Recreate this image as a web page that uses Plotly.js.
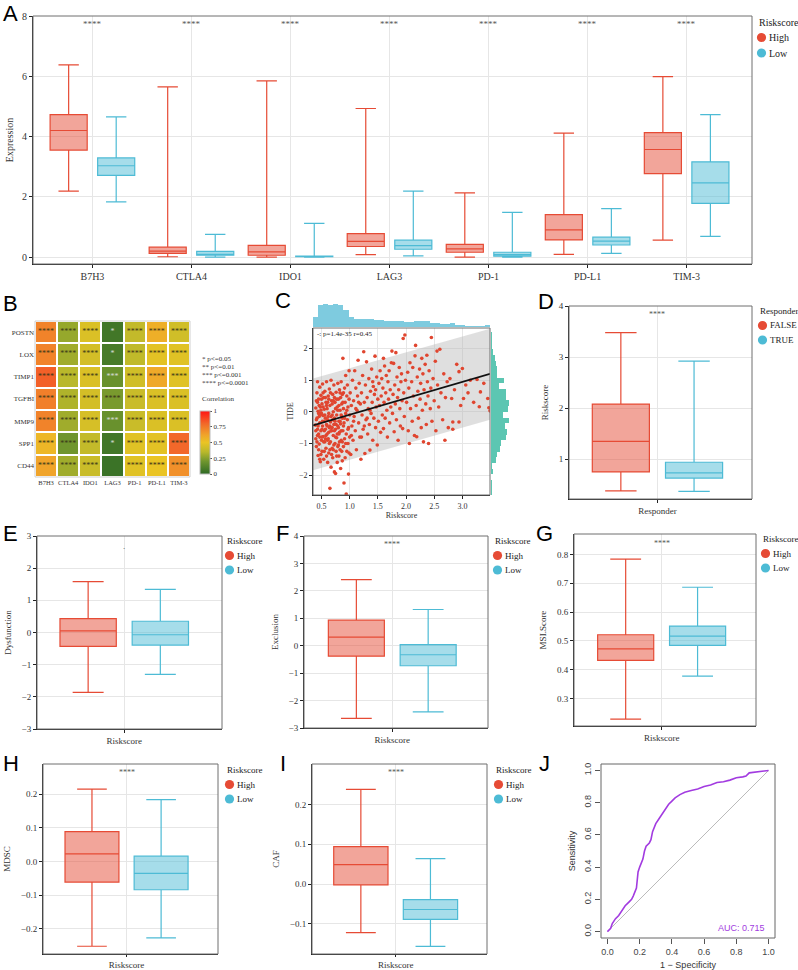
<!DOCTYPE html>
<html><head><meta charset="utf-8">
<script src="https://cdn.plot.ly/plotly-3.0.1.min.js"></script>
<style>html,body{margin:0;padding:0;background:#fff}#chart{width:798px;height:970px}</style>
</head><body><div id="chart"></div>
<script>
const W = 798, H = 970;
const SERIF = 'Liberation Serif, Times New Roman, serif';
const SANS = 'Liberation Sans, Arial, sans-serif';
const RED = '#E64B35', CYAN = '#4DBBD5';
const RED_F = 'rgba(230,75,53,0.5)', CYAN_F = 'rgba(77,187,213,0.5)';

// ---------- Panel A data ----------
const genes = ['B7H3','CTLA4','IDO1','LAG3','PD-1','PD-L1','TIM-3'];
const aHighLower = [2.19, 0.01, 0.00, 0.08, 0.00, 0.09, 0.56];
const aHighQ1    = [3.55, 0.12, 0.06, 0.35, 0.16, 0.57, 2.77];
const aHighMed   = [4.20, 0.20, 0.17, 0.52, 0.27, 0.90, 3.57];
const aHighQ3    = [4.73, 0.33, 0.39, 0.78, 0.42, 1.41, 4.13];
const aHighUpper = [6.38, 5.65, 5.85, 4.93, 2.13, 4.11, 5.99];
const aLowLower  = [1.83, 0.00, 0.00, 0.04, 0.00, 0.12, 0.69];
const aLowQ1     = [2.71, 0.06, 0.01, 0.26, 0.03, 0.40, 1.78];
const aLowMed    = [3.03, 0.09, 0.02, 0.38, 0.08, 0.53, 2.46];
const aLowQ3     = [3.29, 0.19, 0.035, 0.56, 0.16, 0.66, 3.16];
const aLowUpper  = [4.65, 0.75, 1.12, 2.19, 1.48, 1.61, 4.73];
const aSig = ['****','****','****','****','****','****','****'];

// ---------- Panel B data ----------
const hmRows = ['POSTN','LOX','TIMP1','TGFBI','MMP9','SPP1','CD44'];
const hmCols = ['B7H3','CTLA4','IDO1','LAG3','PD-1','PD-L1','TIM-3'];
const hmPOSTN = [0.72, 0.28, 0.45, 0.06, 0.38, 0.58, 0.42];
const hmLOX   = [0.72, 0.30, 0.43, 0.08, 0.37, 0.48, 0.47];
const hmTIMP1 = [0.82, 0.35, 0.45, 0.18, 0.42, 0.60, 0.47];
const hmTGFBI = [0.73, 0.33, 0.43, 0.22, 0.40, 0.45, 0.45];
const hmMMP9  = [0.72, 0.30, 0.44, 0.18, 0.40, 0.45, 0.45];
const hmSPP1  = [0.55, 0.20, 0.38, 0.06, 0.47, 0.48, 0.80];
const hmCD44  = [0.62, 0.30, 0.40, 0.04, 0.47, 0.50, 0.68];
const sigPOSTN = ['****','****','****','*','****','****','****'];
const sigLOX   = ['****','****','****','*','****','****','****'];
const sigTIMP1 = ['****','****','****','***','****','****','****'];
const sigTGFBI = ['****','****','****','****','****','****','****'];
const sigMMP9  = ['****','****','****','***','****','****','****'];
const sigSPP1  = ['****','****','****','*','****','****','****'];
const sigCD44  = ['****','****','****','','****','****','****'];
const sigLegend = ['* p<=0.05','** p<=0.01','*** p<=0.001','**** p<=0.0001'];

// ---------- Panel C data (Riskscore, TIDE) ----------
const tidePairs = [
[0.39,-0.42],[0.40,0.12],[0.40,-0.85],[0.41,0.35],[0.41,-1.1],[0.42,-0.2],[0.42,0.6],[0.43,-0.55],[0.43,0.95],[0.44,-1.38],
[0.44,0.02],[0.45,-0.7],[0.45,0.4],[0.46,-0.15],[0.46,-1.02],[0.47,0.78],[0.47,-0.35],[0.48,-1.58],[0.48,0.15],[0.49,-0.6],
[0.49,0.52],[0.50,-0.9],[0.50,-0.05],[0.51,0.25],[0.51,-1.25],[0.52,-0.45],[0.52,0.88],[0.53,-0.12],[0.53,-0.78],[0.54,0.45],
[0.54,-1.5],[0.55,-0.3],[0.55,0.08],[0.56,-0.95],[0.56,0.65],[0.57,-0.55],[0.57,-0.2],[0.58,0.3],[0.58,-1.15],[0.59,-0.4],
[0.59,0.95],[0.60,-0.7],[0.60,0.1],[0.61,-1.6],[0.61,-0.25],[0.62,0.5],[0.62,-0.85],[0.63,-0.05],[0.63,-1.3],[0.64,0.72],
[0.64,-0.5],[0.65,-2.42],[0.65,0.2],[0.66,-0.95],[0.66,-0.32],[0.67,1.0],[0.67,-1.75],[0.68,-0.6],[0.68,0.35],[0.69,-1.15],
[0.69,-0.1],[0.70,0.55],[0.70,-1.45],[0.71,-0.75],[0.71,0.0],[0.72,-0.4],[0.72,0.85],[0.73,-1.9],[0.73,-0.2],[0.74,-1.0],
[0.74,0.3],[0.75,-1.95],[0.75,-0.55],[0.76,0.62],[0.76,-1.25],[0.77,-0.1],[0.77,-0.82],[0.78,0.15],[0.78,-1.6],[0.79,-0.45],
[0.79,0.9],[0.80,-1.05],[0.80,0.4],[0.81,-0.3],[0.81,-1.4],[0.82,0.7],[0.82,-0.65],[0.83,0.05],[0.83,-1.2],[0.84,-1.79],
[0.84,-0.38],[0.85,0.95],[0.85,-0.9],[0.86,0.25],[0.86,-0.15],[0.87,-1.55],[0.87,0.55],[0.88,1.69],[0.88,-0.6],[0.89,-1.1],
[0.89,0.1],[0.90,-2.25],[0.90,-0.35],[0.91,0.75],[0.91,-0.85],[0.92,-1.45],[0.92,0.3],[0.93,-0.05],[0.93,1.15],[0.94,-2.6],
[0.94,-0.7],[0.95,0.5],[0.95,-1.25],[0.96,-0.25],[0.96,0.85],[0.97,-1.0],[0.97,0.15],[0.98,-1.97],[0.98,-0.5],[0.99,1.3],
[0.99,0.4],[1.00,-0.8],[1.00,-0.1],
[0.40,-0.6],[0.41,-0.25],[0.42,-0.95],[0.43,0.3],[0.44,-0.45],[0.45,-1.2],[0.46,0.2],[0.47,-0.8],[0.48,-0.1],[0.49,-1.35],
[0.50,0.4],[0.51,-0.55],[0.52,-0.3],[0.53,0.15],[0.54,-0.95],[0.55,-0.6],[0.56,-0.1],[0.57,0.45],[0.58,-0.75],[0.59,-1.4],
[0.60,-0.45],[0.61,0.3],[0.62,-0.15],[0.63,-0.65],[0.64,-1.0],[0.65,-0.45],[0.66,0.6],[0.67,-0.15],[0.68,-1.35],[0.69,-0.5],
[0.70,-0.25],[0.71,0.35],[0.72,-1.05],[0.73,-0.6],[0.74,-0.3],[0.75,0.1],[0.76,-0.4],[0.77,-1.4],[0.78,-0.7],[0.79,0.05],
[0.80,-0.5],[0.81,0.2],[0.82,-0.95],[0.83,-0.3],[0.84,0.45],[0.85,-0.6],[0.86,-1.25],[0.87,-0.2],[0.88,0.3],[0.89,-0.45],
[0.43,-0.75],[0.45,-0.05],[0.47,-1.5],[0.49,0.05],[0.51,-0.8],[0.53,0.6],[0.55,-1.25],[0.57,-0.85],[0.59,0.2],[0.61,-0.9],
[0.63,0.4],[0.65,-1.2],[0.67,-0.6],[0.69,0.25],[0.71,-1.2],[0.73,0.45],[0.75,-0.8],[0.77,0.4],[0.79,-1.1],[0.81,-0.7],
[0.83,0.6],[0.85,-0.1],[0.87,-0.95],[0.89,0.6],[0.91,-0.2],[0.93,-1.0],[0.95,0.05],[0.97,-0.55],[0.99,-1.3],
[1.01,0.6],[1.02,-1.35],[1.03,0.2],[1.04,-0.45],[1.05,1.0],[1.06,-0.9],[1.07,0.35],[1.08,-0.15],[1.09,1.3],[1.10,-0.6],
[1.11,0.75],[1.12,-1.2],[1.13,0.05],[1.14,0.5],[1.15,1.63],[1.16,-0.35],[1.17,0.9],[1.18,-0.8],[1.19,0.25],[1.20,-1.5],
[1.21,0.6],[1.22,-0.1],[1.23,1.15],[1.24,-0.55],[1.25,1.9],[1.26,0.3],[1.27,-1.32],[1.28,0.85],[1.29,-0.25],[1.30,1.58],
[1.31,0.45],[1.32,-0.7],[1.33,0.1],[1.34,1.05],[1.35,-0.4],[1.36,-1.21],[1.37,0.65],[1.38,-0.05],[1.39,1.35],[1.40,0.3],
[1.41,-0.9],[1.42,0.8],[1.43,-0.2],[1.44,0.55],[1.45,1.76],[1.46,-0.5],[1.47,0.15],[1.48,1.1],[1.49,-1.05],[1.50,0.4],
[1.03,-0.75],[1.07,-0.3],[1.11,0.1],[1.16,0.3],[1.21,-0.8],[1.26,-0.45],[1.31,-0.2],[1.36,0.05],[1.41,0.95],[1.46,0.7],
[1.51,-0.3],[1.52,0.9],[1.53,0.2],[1.54,1.3],[1.55,-0.65],[1.56,0.5],[1.57,1.05],[1.58,-0.1],[1.59,0.75],[1.60,1.69],
[1.60,-0.53],[1.61,0.3],[1.62,1.45],[1.63,-0.2],[1.64,0.6],[1.65,1.15],[1.66,0.05],[1.67,-0.8],[1.68,0.95],[1.69,0.4],
[1.70,1.3],[1.71,-0.35],[1.72,0.7],[1.73,0.15],[1.74,1.55],[1.75,1.92],[1.76,-0.05],[1.77,0.55],[1.78,1.53],[1.79,-0.63],
[1.80,0.85],[1.81,0.25],[1.82,1.87],[1.83,-0.25],[1.84,1.1],[1.85,0.45],[1.86,-0.9],[1.87,0.7],[1.88,1.4],[1.89,0.1],
[1.90,-0.45],[1.91,0.95],[1.92,1.2],[1.93,0.35],[1.94,-0.53],[1.95,2.32],[1.96,0.6],[1.97,-0.15],[1.98,2.43],[1.99,1.0],
[2.01,0.3],[2.03,1.25],[2.04,-0.6],[2.05,0.75],[2.06,-1.0],[2.07,1.55],[2.08,0.1],[2.10,0.95],[2.11,-0.3],[2.12,1.4],
[2.13,0.5],[2.15,-0.75],[2.16,1.77],[2.17,2.1],[2.18,0.2],[2.19,-0.79],[2.20,1.1],[2.21,0.65],[2.22,-0.2],[2.24,1.35],
[2.25,0.4],[2.26,0.9],[2.27,-0.5],[2.28,1.69],[2.29,0.05],[2.30,1.2],[2.31,-0.95],[2.32,0.7],[2.34,1.5],[2.35,0.25],
[2.36,-0.4],[2.37,1.79],[2.38,0.95],[2.39,0.5],[2.40,-1.0],[2.41,1.3],[2.43,0.1],[2.44,0.75],[2.45,2.35],[2.46,-0.3],
[2.48,1.05],[2.50,0.35],[2.52,1.6],[2.53,-0.6],[2.55,1.92],[2.56,0.85],[2.58,0.15],[2.60,1.98],[2.62,0.6],
[2.65,-0.25],[2.67,1.2],[2.69,-0.9],[2.70,0.45],[2.73,0.95],[2.75,-0.5],[2.78,1.05],[2.81,0.42],[2.83,-0.32],[2.83,-0.55],
[2.86,0.7],[2.90,1.5],[2.94,1.27],[2.94,-0.32],[2.97,0.2],[3.00,1.37],[3.02,0.42],[3.06,0.85],[3.10,0.6],[3.14,1.0],
[3.20,0.3],[3.26,1.02],[3.30,0.16],[3.32,0.63],[3.38,0.9],[3.45,0.42],[3.47,0.13],[3.49,0.03]
];
const riskX = tidePairs.map(p => p[0]);
const tideY = tidePairs.map(p => p[1]);
const fitX = [0.35, 3.49];
const fitY = [-0.43, 1.20];
const bandLow = [-1.85, -0.25];
const bandHigh = [1.05, 2.63];
const corrText = '-: p=1.4e-35 r=0.45';

// ---------- Panels D–I data: [lower, q1, median, q3, upper] ----------
const respFalse = [0.38, 0.75, 1.35, 2.08, 3.48];
const respTrue  = [0.37, 0.63, 0.73, 0.94, 2.92];
const dysHigh   = [-1.86, -0.43, 0.05, 0.43, 1.58];
const dysLow    = [-1.30, -0.39, -0.07, 0.35, 1.34];
const excHigh   = [-2.65, -0.38, 0.31, 0.93, 2.41];
const excLow    = [-2.41, -0.73, -0.33, 0.04, 1.32];
const msiHigh   = [0.228, 0.432, 0.472, 0.521, 0.784];
const msiLow    = [0.377, 0.484, 0.516, 0.551, 0.686];
const mdscHigh  = [-0.252, -0.061, 0.023, 0.089, 0.215];
const mdscLow   = [-0.227, -0.084, -0.035, 0.016, 0.184];
const cafHigh   = [-0.122, -0.002, 0.049, 0.094, 0.238];
const cafLow    = [-0.157, -0.089, -0.064, -0.039, 0.064];

// ---------- Panel J data (ROC) ----------
const rocFPR = [0,0.01,0.02,0.03,0.04,0.05,0.07,0.09,0.11,0.13,0.15,0.16,0.17,0.18,0.185,0.19,0.20,0.21,0.22,0.23,0.24,0.26,0.27,0.28,0.29,0.30,0.32,0.34,0.36,0.38,0.40,0.42,0.45,0.48,0.52,0.56,0.60,0.64,0.68,0.72,0.76,0.80,0.84,0.86,0.88,0.92,0.96,1.0];
const rocTPR = [0,0.01,0.02,0.05,0.07,0.08,0.10,0.13,0.16,0.18,0.20,0.22,0.25,0.27,0.32,0.37,0.40,0.43,0.45,0.50,0.53,0.55,0.57,0.62,0.65,0.67,0.70,0.73,0.76,0.79,0.81,0.83,0.85,0.865,0.875,0.885,0.90,0.91,0.925,0.93,0.94,0.955,0.96,0.965,0.985,0.99,0.995,1.0];
const aucText = 'AUC: 0.715';

// ---------- helpers ----------
const px = x => x / W;
const py = y => 1 - y / H;
const dX = (a, b) => [a / W, b / W];
const dY = (top, bot) => [1 - bot / H, 1 - top / H];

const traces = [];
const shapes = [];
const annotations = [];
const layout = {
  width: W, height: H, margin: {l:0, r:0, t:0, b:0},
  paper_bgcolor: '#fff', plot_bgcolor: 'rgba(0,0,0,0)',
  showlegend: false, boxmode: 'group', boxgap: 0.04, boxgroupgap: 0.22, bargap: 0,
  font: {family: SERIF, color: '#333'}
};

function ggX(domain, range, anchor, extra) {
  return Object.assign({domain, range, anchor, type:'category', showgrid:true, gridcolor:'#E6E6E6', zeroline:false,
    showline:true, linecolor:'#222', linewidth:1, ticks:'outside', ticklen:3, tickcolor:'#222',
    tickfont:{family:SERIF, size:9, color:'#333'}, fixedrange:true}, extra || {});
}
function ggY(domain, range, anchor, tickvals, extra) {
  return Object.assign({domain, range, anchor, tickvals, showgrid:true, gridcolor:'#E6E6E6', zeroline:false,
    showline:true, linecolor:'#222', linewidth:1, ticks:'outside', ticklen:3, tickcolor:'#222',
    tickfont:{family:SERIF, size:9, color:'#333'}, fixedrange:true}, extra || {});
}
function frame(ax, ay, color) {
  shapes.push({type:'rect', xref: ax + ' domain', yref: ay + ' domain', x0:0, x1:1, y0:0, y1:1,
    line:{color: color || '#6f6f6f', width:1}, fillcolor:'rgba(0,0,0,0)', layer:'above'});
}
function boxT(xa, ya, xs, lower, q1, med, q3, upper, color, fill, grp) {
  return {type:'box', xaxis:xa, yaxis:ya, x:xs, lowerfence:lower, q1:q1, median:med, q3:q3, upperfence:upper,
    line:{color, width:1.2}, fillcolor:fill, marker:{color}, whiskerwidth:0.55, boxpoints:false,
    alignmentgroup: xa, offsetgroup: grp, hoverinfo:'skip', showlegend:false};
}
function statBox(xa, ya, cat, st, color, fill, grp) {
  return boxT(xa, ya, [cat], [st[0]], [st[1]], [st[2]], [st[3]], [st[4]], color, fill, grp);
}
function legendAt(x, yTitle, title, labels, fs, gap) {
  annotations.push({xref:'paper', yref:'paper', x:px(x), y:py(yTitle), text:title, showarrow:false,
    xanchor:'left', yanchor:'middle', font:{family:SERIF, size:fs, color:'#222'}});
  const cols = [RED, CYAN];
  labels.forEach((lab, i) => {
    const yy = yTitle + gap * (i + 1);
    shapes.push({type:'circle', xref:'paper', yref:'paper', xsizemode:'pixel', ysizemode:'pixel',
      xanchor:px(x + 4.5), yanchor:py(yy), x0:-4.6, x1:4.6, y0:-4.6, y1:4.6,
      fillcolor:cols[i], line:{width:0}});
    annotations.push({xref:'paper', yref:'paper', x:px(x + 10), y:py(yy), text:lab, showarrow:false,
      xanchor:'left', yanchor:'middle', font:{family:SERIF, size:fs, color:'#222'}});
  });
}
function sigAnn(xa, ya, x, y, text, size) {
  annotations.push({xref:xa, yref:ya, x, y, text, showarrow:false, xanchor:'center', yanchor:'middle',
    font:{family:SERIF, size:size || 8, color:'#555'}});
}
function letter(t, x, y) {
  annotations.push({xref:'paper', yref:'paper', x:px(x), y:py(y), text:t, showarrow:false,
    xanchor:'left', yanchor:'middle', font:{family:SANS, size:22, color:'#000'}});
}

// ---------- Panel A ----------
traces.push(boxT('x','y', genes, aHighLower, aHighQ1, aHighMed, aHighQ3, aHighUpper, RED, RED_F, 'High'));
traces.push(boxT('x','y', genes, aLowLower, aLowQ1, aLowMed, aLowQ3, aLowUpper, CYAN, CYAN_F, 'Low'));
layout.xaxis = ggX(dX(33,752), [-0.6, 6.66], 'y', {tickfont:{family:SERIF, size:10, color:'#333'}});
layout.yaxis = ggY(dY(16,264), [-0.23, 8.0], 'x', [0,2,4,6,8], {tickfont:{family:SERIF, size:10, color:'#333'},
  title:{text:'Expression', font:{family:SERIF, size:10, color:'#333'}, standoff:6}});
frame('x','y');
genes.forEach((g, i) => sigAnn('x','y', g, 7.72, aSig[i], 9));
legendAt(757, 22, 'Riskscore', ['High','Low'], 10, 15.5);

// ---------- Panel B ----------
const hmZ = [hmPOSTN, hmLOX, hmTIMP1, hmTGFBI, hmMMP9, hmSPP1, hmCD44];
const hmT = [sigPOSTN, sigLOX, sigTIMP1, sigTGFBI, sigMMP9, sigSPP1, sigCD44];
traces.push({type:'heatmap', xaxis:'x2', yaxis:'y2', x:hmCols, y:hmRows, z:hmZ, zmin:0, zmax:1, xgap:2, ygap:2,
  colorscale:[[0,'#2E6A25'],[0.2,'#6F952E'],[0.35,'#B9B82B'],[0.5,'#EAC424'],[0.62,'#F0A42A'],[0.8,'#F2682A'],[1,'#FF1414']],
  hoverinfo:'skip',
  colorbar:{x:px(200), xanchor:'left', y:py(411), yanchor:'top', len:63/H, lenmode:'fraction',
    thickness:10, thicknessmode:'pixels', outlinewidth:1, outlinecolor:'#bbb', xpad:0, ypad:0,
    tickvals:[0,0.25,0.5,0.75,1], ticktext:['0','0.25','0.5','0.75','1'], ticks:'outside', ticklen:2,
    tickcolor:'#555', tickfont:{family:SERIF, size:7, color:'#333'}}});
// significance stars inside cells (dark on bright cells, light on dark-green cells)
const starX = [], starY = [], starT = [], starC = [];
hmRows.forEach((r, i) => hmCols.forEach((c, j) => {
  starX.push(c); starY.push(r); starT.push(hmT[i][j]);
  starC.push(hmZ[i][j] < 0.2 ? '#d9d9d9' : '#3a3418');
}));
traces.push({type:'scatter', mode:'text', xaxis:'x2', yaxis:'y2', x:starX, y:starY, text:starT,
  textposition:'middle center', textfont:{family:SERIF, size:8, color:starC}, hoverinfo:'skip', showlegend:false});
layout.xaxis2 = {domain:dX(35,190), anchor:'y2', type:'category', showgrid:false, zeroline:false, showline:false, ticks:'',
  tickfont:{family:SERIF, size:6.5, color:'#333'}, tickangle:0, fixedrange:true};
layout.yaxis2 = {domain:dY(321,477), anchor:'x2', type:'category', autorange:'reversed', showgrid:false, zeroline:false,
  showline:false, ticks:'', tickfont:{family:SERIF, size:7, color:'#333'}, fixedrange:true};
frame('x2','y2','#d0d0d0');
sigLegend.forEach((s, i) => annotations.push({xref:'paper', yref:'paper', x:px(200), y:py(359 + 8*i), text:s,
  showarrow:false, xanchor:'left', yanchor:'middle', font:{family:SERIF, size:7, color:'#333'}}));
annotations.push({xref:'paper', yref:'paper', x:px(200), y:py(399), text:'Correlation', showarrow:false,
  xanchor:'left', yanchor:'middle', font:{family:SERIF, size:7, color:'#333'}});

// ---------- Panel C ----------
traces.push({type:'scatter', mode:'lines', xaxis:'x3', yaxis:'y3', x:fitX, y:bandLow, line:{width:0},
  hoverinfo:'skip', showlegend:false});
traces.push({type:'scatter', mode:'lines', xaxis:'x3', yaxis:'y3', x:fitX, y:bandHigh, line:{width:0},
  fill:'tonexty', fillcolor:'rgba(185,185,185,0.45)', hoverinfo:'skip', showlegend:false});
traces.push({type:'scatter', mode:'markers', xaxis:'x3', yaxis:'y3', x:riskX, y:tideY,
  marker:{color:'#E0452F', size:3.6}, hoverinfo:'skip', showlegend:false});
traces.push({type:'scatter', mode:'lines', xaxis:'x3', yaxis:'y3', x:fitX, y:fitY,
  line:{color:'#111', width:1.6}, hoverinfo:'skip', showlegend:false});
traces.push({type:'histogram', xaxis:'x4', yaxis:'y4', x:riskX, xbins:{start:0.35, end:3.53, size:0.09},
  marker:{color:'#7ECBDF', line:{width:0}}, hoverinfo:'skip', showlegend:false});
traces.push({type:'histogram', xaxis:'x5', yaxis:'y5', y:tideY, orientation:'h', ybins:{start:-2.7, end:2.7, size:0.18},
  marker:{color:'#5CC6B2', line:{width:0}}, hoverinfo:'skip', showlegend:false});
layout.xaxis3 = {domain:dX(313,490), anchor:'y3', range:[0.35,3.49], tickvals:[0.5,1,1.5,2,2.5,3], ticktext:['0.5','1.0','1.5','2.0','2.5','3.0'],
  showgrid:true, gridcolor:'#E6E6E6', zeroline:false, showline:true, linecolor:'#222', ticks:'outside', ticklen:3,
  tickcolor:'#222', tickfont:{family:SERIF, size:8, color:'#333'}, fixedrange:true,
  title:{text:'Riskscore', font:{family:SERIF, size:8, color:'#333'}, standoff:2}};
layout.yaxis3 = {domain:dY(328,495), anchor:'x3', range:[-2.63,2.65], tickvals:[-2,-1,0,1,2],
  showgrid:true, gridcolor:'#E6E6E6', zeroline:false, showline:true, linecolor:'#222', ticks:'outside', ticklen:3,
  tickcolor:'#222', tickfont:{family:SERIF, size:8, color:'#333'}, fixedrange:true,
  title:{text:'TIDE', font:{family:SERIF, size:8, color:'#333'}, standoff:4}};
frame('x3','y3');
layout.xaxis4 = {domain:dX(313,490), anchor:'y4', range:[0.35,3.49], visible:false, fixedrange:true};
layout.yaxis4 = {domain:dY(303,327), anchor:'x4', visible:false, fixedrange:true, rangemode:'tozero'};
layout.xaxis5 = {domain:dX(491,510), anchor:'y5', visible:false, fixedrange:true, rangemode:'tozero'};
layout.yaxis5 = {domain:dY(328,495), anchor:'x5', range:[-2.63,2.65], visible:false, fixedrange:true};
annotations.push({xref:'x3', yref:'y3', x:0.39, y:2.45, text:corrText, showarrow:false, xanchor:'left', yanchor:'middle',
  font:{family:SERIF, size:7, color:'#222'}});

// ---------- Panel D ----------
traces.push(statBox('x6','y6','Responder', respFalse, RED, RED_F, 'FALSE'));
traces.push(statBox('x6','y6','Responder', respTrue, CYAN, CYAN_F, 'TRUE'));
layout.xaxis6 = ggX(dX(569,752), [-0.58, 0.62], 'y6');
layout.yaxis6 = ggY(dY(306,499), [0.22, 4.0], 'x6', [1,2,3,4], {title:{text:'Riskscore', font:{family:SERIF, size:9, color:'#333'}, standoff:8}});
frame('x6','y6');
sigAnn('x6','y6','Responder', 3.83, '****');
legendAt(758, 311, 'Responder', ['FALSE','TRUE'], 9, 14.5);

// ---------- Panel E ----------
traces.push(statBox('x7','y7','Riskscore', dysHigh, RED, RED_F, 'High'));
traces.push(statBox('x7','y7','Riskscore', dysLow, CYAN, CYAN_F, 'Low'));
layout.xaxis7 = ggX(dX(37,222), [-0.58, 0.65], 'y7');
layout.yaxis7 = ggY(dY(536,729), [-3, 3], 'x7', [-3,-2,-1,0,1,2,3], {title:{text:'Dysfunction', font:{family:SERIF, size:9, color:'#333'}, standoff:8}});
frame('x7','y7');
sigAnn('x7','y7','Riskscore', 2.68, '.', 9);
legendAt(225, 541, 'Riskscore', ['High','Low'], 9, 14.5);

// ---------- Panel F ----------
traces.push(statBox('x8','y8','Riskscore', excHigh, RED, RED_F, 'High'));
traces.push(statBox('x8','y8','Riskscore', excLow, CYAN, CYAN_F, 'Low'));
layout.xaxis8 = ggX(dX(304,488), [-0.59, 0.64], 'y8');
layout.yaxis8 = ggY(dY(536,728), [-3, 4], 'x8', [-3,-2,-1,0,1,2,3,4], {title:{text:'Exclusion', font:{family:SERIF, size:9, color:'#333'}, standoff:8}});
frame('x8','y8');
sigAnn('x8','y8','Riskscore', 3.7, '****');
legendAt(493, 541, 'Riskscore', ['High','Low'], 9, 14.5);

// ---------- Panel G ----------
traces.push(statBox('x9','y9','Riskscore', msiHigh, RED, RED_F, 'High'));
traces.push(statBox('x9','y9','Riskscore', msiLow, CYAN, CYAN_F, 'Low'));
layout.xaxis9 = ggX(dX(574,756), [-0.585, 0.63], 'y9');
layout.yaxis9 = ggY(dY(534,726), [0.204, 0.871], 'x9', [0.3,0.4,0.5,0.6,0.7,0.8], {tickformat:'.1f',
  title:{text:'MSI.Score', font:{family:SERIF, size:9, color:'#333'}, standoff:8}});
frame('x9','y9');
sigAnn('x9','y9','Riskscore', 0.839, '****');
legendAt(761, 539, 'Riskscore', ['High','Low'], 9, 14.5);

// ---------- Panel H ----------
traces.push(statBox('x10','y10','Riskscore', mdscHigh, RED, RED_F, 'High'));
traces.push(statBox('x10','y10','Riskscore', mdscLow, CYAN, CYAN_F, 'Low'));
layout.xaxis10 = ggX(dX(43,218), [-0.58, 0.635], 'y10', {ticklen:2});
layout.yaxis10 = ggY(dY(764,954), [-0.275, 0.29], 'x10', [-0.2,-0.1,0,0.1,0.2], {tickformat:'.1f',
  title:{text:'MDSC', font:{family:SERIF, size:9, color:'#333'}, standoff:8}});
frame('x10','y10');
sigAnn('x10','y10','Riskscore', 0.266, '****');
legendAt(225, 770, 'Riskscore', ['High','Low'], 9, 14.5);

// ---------- Panel I ----------
traces.push(statBox('x11','y11','Riskscore', cafHigh, RED, RED_F, 'High'));
traces.push(statBox('x11','y11','Riskscore', cafLow, CYAN, CYAN_F, 'Low'));
layout.xaxis11 = ggX(dX(312,487), [-0.577, 0.63], 'y11', {ticklen:2});
layout.yaxis11 = ggY(dY(764,954), [-0.176, 0.302], 'x11', [-0.1,0,0.1,0.2], {tickformat:'.1f',
  title:{text:'CAF', font:{family:SERIF, size:9, color:'#333'}, standoff:8}});
frame('x11','y11');
sigAnn('x11','y11','Riskscore', 0.281, '****');
legendAt(494, 770, 'Riskscore', ['High','Low'], 9, 14.5);

// ---------- Panel J ----------
traces.push({type:'scatter', mode:'lines', xaxis:'x12', yaxis:'y12', x:[0,1], y:[0,1],
  line:{color:'#bbbbbb', width:1}, hoverinfo:'skip', showlegend:false});
traces.push({type:'scatter', mode:'lines', xaxis:'x12', yaxis:'y12', x:rocFPR, y:rocTPR,
  line:{color:'#A23BE0', width:1.6}, hoverinfo:'skip', showlegend:false});
const rTicks = [0,0.2,0.4,0.6,0.8,1.0];
const rText = ['0.0','0.2','0.4','0.6','0.8','1.0'];
layout.xaxis12 = {domain:dX(601,775), anchor:'y12', range:[-0.04,1.04], tickvals:rTicks, ticktext:rText, showgrid:false, zeroline:false,
  showline:false, ticks:'outside', ticklen:5, tickcolor:'#555', tickfont:{family:SANS, size:9, color:'#444'}, fixedrange:true,
  title:{text:'1 − Specificity', font:{family:SANS, size:9, color:'#333'}, standoff:6}};
layout.yaxis12 = {domain:dY(764,938), anchor:'x12', range:[-0.04,1.04], tickvals:rTicks, ticktext:rText, tickangle:-90, showgrid:false,
  zeroline:false, showline:false, ticks:'outside', ticklen:5, tickcolor:'#555', tickfont:{family:SANS, size:9, color:'#444'},
  fixedrange:true, title:{text:'Sensitivity', font:{family:SANS, size:9, color:'#333'}, standoff:6}};
frame('x12','y12','#666');
annotations.push({xref:'x12', yref:'y12', x:0.99, y:0.02, text:aucText, showarrow:false, xanchor:'right', yanchor:'middle',
  font:{family:SANS, size:9, color:'#A23BE0'}});

// ---------- Panel letters ----------
letter('A', 1, 14);
letter('B', 1, 303);
letter('C', 273, 300);
letter('D', 536, 301);
letter('E', 1, 533);
letter('F', 274, 533);
letter('G', 534, 533);
letter('H', 1, 763);
letter('I', 278, 763);
letter('J', 537, 763);

layout.shapes = shapes;
layout.annotations = annotations;
Plotly.newPlot('chart', traces, layout, {displayModeBar:false, staticPlot:true});
</script></body></html>
